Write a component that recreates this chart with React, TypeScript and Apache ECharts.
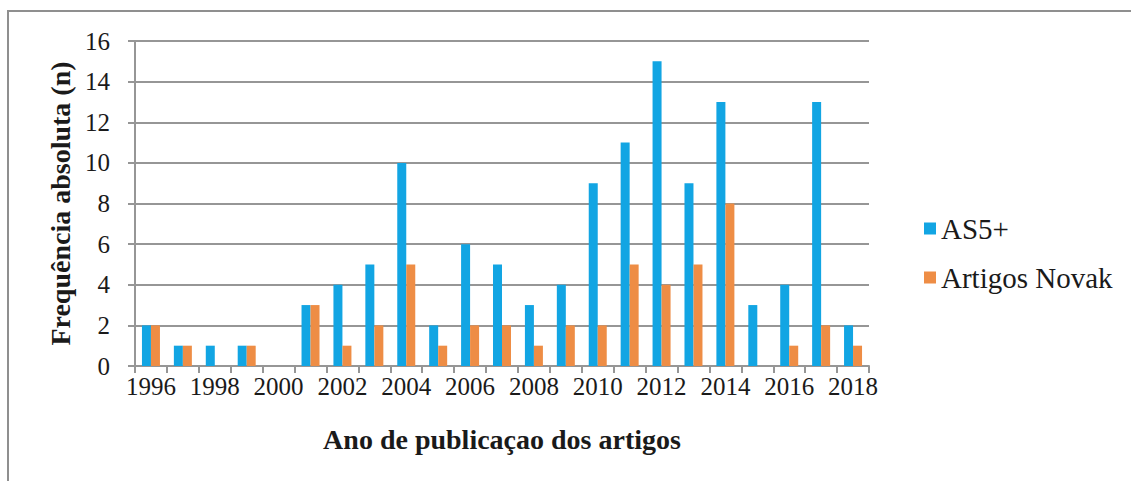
import React, { useEffect, useRef } from "react";
import * as echarts from "echarts";

// Publication years (one category per year)
const years: string[] = [
  "1996", "1997", "1998", "1999", "2000", "2001", "2002", "2003", "2004", "2005", "2006", "2007",
  "2008", "2009", "2010", "2011", "2012", "2013", "2014", "2015", "2016", "2017", "2018",
];

// Absolute frequency per year
const as5Plus: number[] = [2, 1, 1, 1, 0, 3, 4, 5, 10, 2, 6, 5, 3, 4, 9, 11, 15, 9, 13, 3, 4, 13, 2];
const artigosNovak: number[] = [2, 1, 0, 1, 0, 3, 1, 2, 5, 1, 2, 2, 1, 2, 2, 5, 4, 5, 8, 0, 1, 2, 1];

const seriesNames: string[] = ["AS5+", "Artigos Novak"];
const yTicks = { min: 0, max: 16, interval: 2 };

const SERIF = "Liberation Serif";
const GRID_GRAY = "#969696";
const TEXT = "#1a1a1a";

export default function App() {
  const ref = useRef<HTMLDivElement>(null);

  useEffect(() => {
    if (!ref.current) return;
    const chart = echarts.init(ref.current, undefined, { renderer: "svg" });
    chart.setOption({
      animation: false,
      backgroundColor: "#ffffff",
      color: ["#12A5E3", "#EE8D45"],
      textStyle: { fontFamily: SERIF },
      graphic: [
        {
          type: "polyline",
          shape: { points: [[8, 490], [8, 11], [1140, 11]] },
          style: { stroke: "#8f8f8f", lineWidth: 2, fill: "none" },
          silent: true,
        },
      ],
      grid: { left: 135, right: 262, top: 41, bottom: 115, containLabel: false },
      legend: {
        orient: "vertical",
        left: 919,
        top: 209,
        itemWidth: 12,
        itemHeight: 12,
        itemGap: 20,
        itemStyle: { borderWidth: 0 },
        icon: "rect",
        textStyle: { fontFamily: SERIF, fontSize: 29, color: TEXT, padding: [0, 0, 0, 0] },
        data: seriesNames,
      },
      xAxis: {
        type: "category",
        data: years,
        name: "Ano de publicaçao dos artigos",
        nameLocation: "middle",
        nameGap: 59,
        nameTextStyle: { fontFamily: SERIF, fontSize: 28, fontWeight: "bold", color: TEXT },
        axisLine: { show: true, lineStyle: { color: GRID_GRAY, width: 2 } },
        axisTick: { show: true, interval: 0, length: 7, lineStyle: { color: GRID_GRAY, width: 2 } },
        axisLabel: { interval: 1, margin: 8, fontFamily: SERIF, fontSize: 25, color: TEXT },
        splitLine: { show: false },
      },
      yAxis: {
        type: "value",
        min: yTicks.min,
        max: yTicks.max,
        interval: yTicks.interval,
        name: "Frequência absoluta (n)",
        nameLocation: "middle",
        nameRotate: 90,
        nameGap: 60,
        nameTextStyle: { fontFamily: SERIF, fontSize: 28, fontWeight: "bold", color: TEXT },
        axisLine: { show: true, lineStyle: { color: GRID_GRAY, width: 2 } },
        axisTick: { show: true, length: 7, lineStyle: { color: GRID_GRAY, width: 2 } },
        axisLabel: { margin: 25, fontFamily: SERIF, fontSize: 25, color: TEXT },
        splitLine: { show: true, lineStyle: { color: GRID_GRAY, width: 2 } },
      },
      series: [
        {
          name: seriesNames[0],
          type: "bar",
          data: as5Plus,
          barWidth: 9,
          barGap: "0%",
        },
        {
          name: seriesNames[1],
          type: "bar",
          data: artigosNovak,
          barWidth: 9,
          barGap: "0%",
        },
      ],
    });
    return () => chart.dispose();
  }, []);

  return (
    <div
      ref={ref}
      style={{ position: "absolute", left: 0, top: 0, width: 1131, height: 481, background: "#fff" }}
    />
  );
}
